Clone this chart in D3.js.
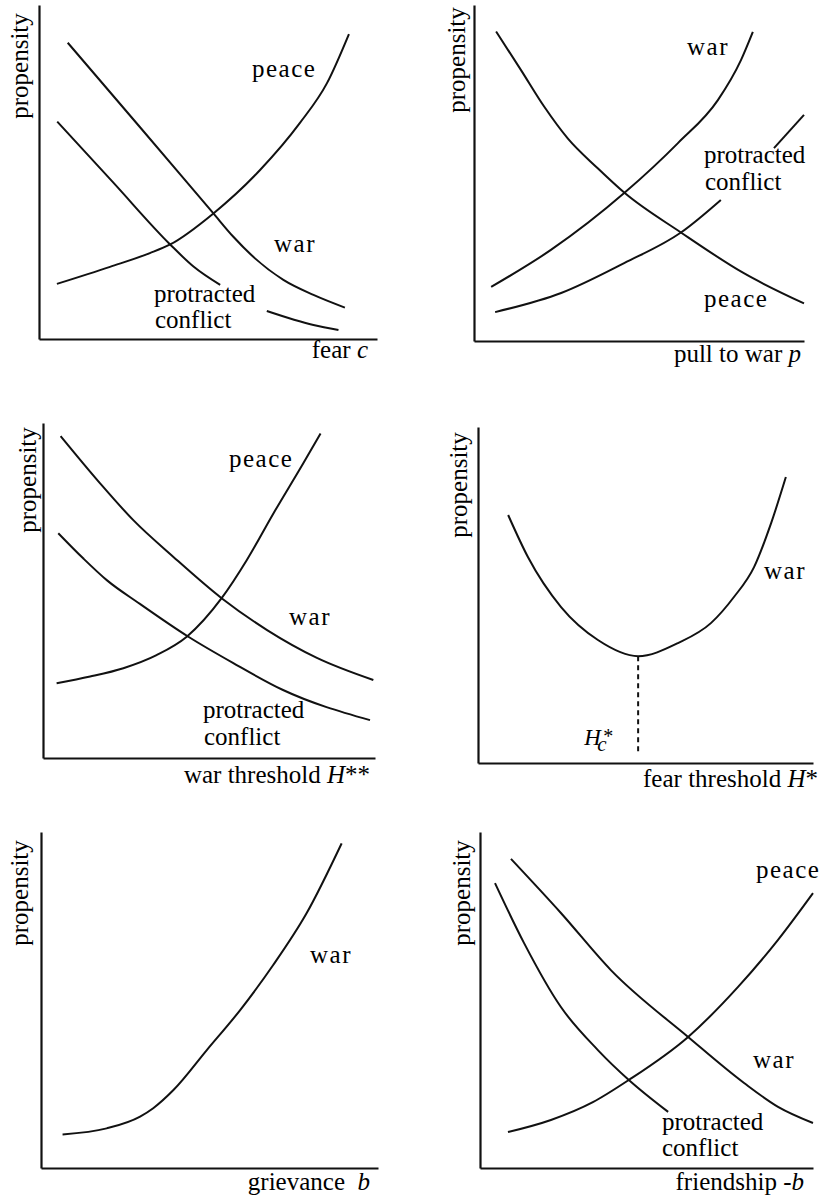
<!DOCTYPE html>
<html>
<head>
<meta charset="utf-8">
<script src="https://cdn.jsdelivr.net/npm/d3@7"></script>
<style>
  body { margin: 0; background: #fff; }
</style>
</head>
<body>
<div id="chart"></div>
<script>
// all curves are read off the picture, in units 0-100 along each axis
// panel 1: fear c
const fearWar = [[8.5,88.7],[29.9,63.4],[51.6,37.6],[57.5,30.6],[63.4,24.6],[72.3,17.7],[81.2,13.2],[90.5,9.4]];
const fearProtractedA = [[5.4,65.1],[22,46.8],[38.8,28.3],[45.7,21.7],[53.6,16.2]];
const fearProtractedB = [[67.4,8.4],[81.2,4.2],[88.6,2.7]];
const fearPeace = [[5.3,16.5],[21,21.6],[32.8,25.7],[38.8,28.3],[51.6,37.6],[65.4,50.6],[77.2,64.7],[85.2,76.6],[91.7,91.3]];

// panel 2: pull to war p
const pullPeace = [[6.7,92.1],[14.2,80.7],[21.3,69.7],[28.4,60.3],[37.5,51.4],[45.6,44.1],[62.7,32.3],[81.9,20.1],[100,11.2]];
const pullWar = [[5.2,16.1],[23.3,27.1],[45.6,44.1],[61.8,58.9],[73.9,71.7],[80.9,83.6],[84.5,92]];
const pullProtractedA = [[6.4,8.6],[26.4,14.3],[45.5,23.2],[62.7,32.3],[74.8,42]];
const pullProtractedB = [[90.9,57.4],[100,67.3]];

// panel 3: war threshold H**
const warThrWar = [[5.3,96.1],[17.2,82],[27.2,71],[39.2,60.1],[53.8,47.7],[67.5,38.2],[82.5,29.9],[99.5,23.3]];
const warThrProtracted = [[4.6,67.1],[12.1,59.6],[19.2,53.1],[29.2,46],[43.8,36.2],[57.2,28.4],[72.3,20.3],[98.5,11.3]];
const warThrPeace = [[4.1,22.3],[14.2,24.3],[24.2,26.8],[34.2,30.7],[43.3,36.2],[53.8,47.7],[61.4,59.1],[69.4,73],[78.4,88],[83.6,96.9]];

// panel 4: fear threshold H*
const fearThrWar = [[9,73.8],[14.9,61.3],[24.8,46.4],[35.8,36.6],[47.8,31.8],[59.7,35.7],[69.6,41.7],[76.4,49.4],[82.4,58.3],[87.5,71.4],[91.9,85.1]];
const fearThrMin = [47.8];

// panel 5: grievance b
const grievWar = [[6.4,10],[19.5,11.8],[29.4,15.3],[33.3,17.8],[39.3,23.2],[49.2,35.1],[59.1,47],[68.9,60.4],[78.8,75.8],[89.2,96.6]];

// panel 6: friendship -b
const friendWar = [[9.3,92],[24.3,75.9],[39.3,58.9],[62.5,39],[79.3,25.3],[89.5,18.2],[100,13.4]];
const friendProtracted = [[4.5,84.8],[13.2,67],[24.3,47.9],[35.4,35.1],[44.7,26.2],[56.5,16.7]];
const friendPeace = [[8.4,10.7],[21.3,14.3],[33.9,19.6],[44.7,26.2],[62.5,39],[77.5,53.9],[89.5,67.9],[100,81.8]];

// layout of each panel: axis box in pixels + label spots
const panels = [
  { x0: 39, x1: 377, y0: 339, y1: 5,
    series: [fearWar, fearProtractedA, fearProtractedB, fearPeace],
    xlabel: [['fear ', false], ['c', true]], xlabelAt: [368, 358], ylabelAt: [28, 66],
    labels: [['peace', 252, 77], ['war', 274, 252], ['protracted', 154, 302], ['conflict', 155, 328]] },
  { x0: 474, x1: 804, y0: 341, y1: 5,
    series: [pullPeace, pullWar, pullProtractedA, pullProtractedB],
    xlabel: [['pull to war ', false], ['p', true]], xlabelAt: [801, 362], ylabelAt: [465, 60],
    labels: [['war', 687, 55], ['protracted', 704, 163], ['conflict', 705, 190], ['peace', 704, 307]] },
  { x0: 43, x1: 375, y0: 758, y1: 423,
    series: [warThrWar, warThrProtracted, warThrPeace],
    xlabel: [['war threshold ', false], ['H', true], ['**', false]], xlabelAt: [370, 783], ylabelAt: [36, 480],
    labels: [['peace', 229, 467], ['war', 289, 625], ['protracted', 203, 718], ['conflict', 204, 745]] },
  { x0: 478, x1: 813, y0: 763, y1: 427,
    series: [fearThrWar],
    xlabel: [['fear threshold ', false], ['H', true], ['*', false]], xlabelAt: [818, 787], ylabelAt: [467, 485],
    labels: [['war', 764, 579]], dashAt: fearThrMin },
  { x0: 41, x1: 378, y0: 1168, y1: 832,
    series: [grievWar],
    xlabel: [['grievance  ', false], ['b', true]], xlabelAt: [370, 1190], ylabelAt: [28, 893],
    labels: [['war', 310, 963]] },
  { x0: 480, x1: 813, y0: 1168, y1: 832,
    series: [friendWar, friendProtracted, friendPeace],
    xlabel: [['friendship -', false], ['b', true]], xlabelAt: [804, 1190], ylabelAt: [470, 893],
    labels: [['peace', 756, 878], ['war', 753, 1068], ['protracted', 662, 1130], ['conflict', 662, 1156]] }
];

const serif = '"Liberation Serif", "DejaVu Serif", "Times New Roman", serif';
const fontSize = 25;

const svg = d3.select('#chart')
  .append('svg')
  .attr('width', 822)
  .attr('height', 1200)
  .attr('font-family', serif)
  .style('font-family', serif);

panels.forEach(p => {
  let x = d3.scaleLinear().domain([0, 100]).range([p.x0, p.x1]);
  let y = d3.scaleLinear().domain([0, 100]).range([p.y0, p.y1]);

  // axes, no ticks, just the lines
  svg.append('g')
    .attr('transform', `translate(0,${p.y0})`)
    .call(d3.axisBottom(x).tickValues([]).tickSizeOuter(0))
    .select('.domain').attr('stroke', '#111').attr('stroke-width', 2.2);

  svg.append('g')
    .attr('transform', `translate(${p.x0},0)`)
    .call(d3.axisLeft(y).tickValues([]).tickSizeOuter(0))
    .select('.domain').attr('stroke', '#111').attr('stroke-width', 2.2);

  let line = d3.line()
    .x(d => x(d[0]))
    .y(d => y(d[1]))
    .curve(d3.curveMonotoneX);

  p.series.forEach(s => {
    svg.append('path')
      .attr('d', line(s))
      .attr('fill', 'none')
      .attr('stroke', '#111')
      .attr('stroke-width', 2);
  });

  // dashed drop line to the minimum + its H_c* label
  if (p.dashAt) {
    let xm = p.dashAt[0];
    let ym = d3.min(p.series[0], d => d[1]);
    svg.append('line')
      .attr('x1', x(xm)).attr('x2', x(xm))
      .attr('y1', y(ym)).attr('y2', y(3))
      .attr('stroke', '#111')
      .attr('stroke-width', 2)
      .attr('stroke-dasharray', '5,4');

    svg.append('text')
      .text('H')
      .attr('x', x(xm) - 54)
      .attr('y', y(5.4))
      .style('font-style', 'italic')
      .style('font-size', '23px');
    svg.append('text')
      .text('*')
      .attr('x', x(xm) - 35)
      .attr('y', y(6.1))
      .style('font-size', '20px');
    svg.append('text')
      .text('c')
      .attr('x', x(xm) - 41)
      .attr('y', y(3.6))
      .style('font-style', 'italic')
      .style('font-size', '21px');
  }

  // curve labels
  p.labels.forEach(l => {
    svg.append('text')
      .text(l[0])
      .attr('x', l[1])
      .attr('y', l[2])
      .style('font-size', fontSize + 'px')
      .style('letter-spacing', l[0] === 'war' || l[0] === 'peace' ? '1.5px' : '0px');
  });

  // x axis title
  let xt = svg.append('text')
    .attr('x', p.xlabelAt[0])
    .attr('y', p.xlabelAt[1])
    .attr('text-anchor', 'end')
    .style('font-size', fontSize + 'px')
    .style('white-space', 'pre');
  p.xlabel.forEach(part => {
    xt.append('tspan').text(part[0]).style('font-style', part[1] ? 'italic' : 'normal');
  });

  // y axis title
  svg.append('text')
    .text('propensity')
    .attr('text-anchor', 'middle')
    .attr('transform', `translate(${p.ylabelAt[0]},${p.ylabelAt[1]}) rotate(-90)`)
    .style('font-size', fontSize + 'px');
});
</script>
</body>
</html>
